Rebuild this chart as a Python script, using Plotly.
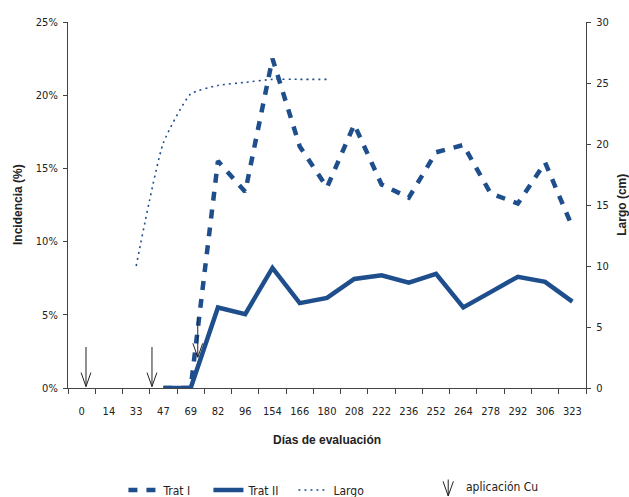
import plotly.graph_objects as go

dias = ["0", "14", "33", "47", "69", "82", "96", "154", "166", "180", "208",
        "222", "236", "252", "264", "278", "292", "306", "323"]
trat_i = [None, None, None, 0, 0, 15.5, 13.4, 22.5, 16.5, 13.7, 18.0,
          13.9, 13.0, 16.1, 16.6, 13.3, 12.6, 15.4, 11.0]
trat_ii = [None, None, None, 0, 0, 5.5, 5.05, 8.2, 5.8, 6.15, 7.45,
           7.7, 7.2, 7.8, 5.5, 6.55, 7.6, 7.25, 5.9]
largo = [None, None, 10.0, 20.1, 24.1, 24.8, 25.05, 25.3, 25.3, 25.3,
         None, None, None, None, None, None, None, None, None]

# Cu application arrows: x in category-index units, y top/bottom in %
arrow_x = [0.16, 2.58, 4.26]
arrow_top = [2.8, 2.8, 4.8]
arrow_bot = [0.1, 0.1, 2.1]

BLUE = "#1F4E8C"
FONT = "DejaVu Sans Condensed, Liberation Sans Narrow, Liberation Sans, Arial, sans-serif"
BOLD_FONT = "Liberation Sans, Arial, sans-serif"
TXT = "#222222"

fig = go.Figure()
fig.add_trace(go.Scatter(x=dias, y=trat_i, name="Trat I", mode="lines",
                         line=dict(color=BLUE, width=4.5, dash="9px,9px")))
fig.add_trace(go.Scatter(x=dias, y=trat_ii, name="Trat II", mode="lines",
                         line=dict(color=BLUE, width=4.5)))
fig.add_trace(go.Scatter(x=dias, y=largo, name="Largo", mode="lines", yaxis="y2",
                         line=dict(color=BLUE, width=1.6, dash="2px,4px",
                                   shape="spline", smoothing=0.5)))

shapes = []
hw = 0.18   # half width of arrow head in category units
hh = 0.95   # height of arrow head in %
ln = dict(color="#222222", width=1)
for x, t, b in zip(arrow_x, arrow_top, arrow_bot):
    shapes.append(dict(type="line", xref="x", yref="y", x0=x, x1=x, y0=t, y1=b, line=ln))
    shapes.append(dict(type="line", xref="x", yref="y", x0=x - hw, x1=x, y0=b + hh, y1=b, line=ln))
    shapes.append(dict(type="line", xref="x", yref="y", x0=x + hw, x1=x, y0=b + hh, y1=b, line=ln))

# legend arrow symbol (paper coords)
lx, ly0, ly1 = 0.734, -0.250, -0.295
shapes.append(dict(type="line", xref="paper", yref="paper", x0=lx, x1=lx, y0=ly0, y1=ly1, line=ln))
shapes.append(dict(type="line", xref="paper", yref="paper", x0=lx - 0.01, x1=lx, y0=ly1 + 0.04, y1=ly1, line=ln))
shapes.append(dict(type="line", xref="paper", yref="paper", x0=lx + 0.01, x1=lx, y0=ly1 + 0.04, y1=ly1, line=ln))

title_font = dict(family=BOLD_FONT, size=12, color=TXT)
tick_font = dict(family=FONT, size=11, color=TXT)

fig.update_layout(
    width=629, height=497,
    margin=dict(l=68, r=43, t=22, b=109),
    paper_bgcolor="white", plot_bgcolor="white",
    font=dict(family=FONT, size=12, color=TXT),
    showlegend=True,
    legend=dict(orientation="h", xref="paper", x=0.107, xanchor="left",
                yref="container", y=0.014, yanchor="middle",
                font=dict(family=FONT, size=12, color=TXT), bgcolor="rgba(0,0,0,0)",
                itemwidth=30, entrywidth=40, tracegroupgap=0),
    xaxis=dict(type="category", showgrid=False, showline=True, linecolor="#444",
               linewidth=1, ticks="outside", ticklen=5, tickcolor="#444",
               tickson="boundaries", range=[-0.5, 18.5], tickangle=0,
               ticklabelstandoff=13, automargin=False, tickfont=tick_font),
    yaxis=dict(range=[0, 25], dtick=5, ticksuffix="%", showgrid=False, zeroline=False,
               showline=True, linecolor="#444", linewidth=1, ticks="outside",
               ticklen=4, tickcolor="#444", ticklabelstandoff=3,
               automargin=False, tickfont=tick_font),
    yaxis2=dict(range=[0, 30], dtick=5, overlaying="y", side="right", showgrid=False,
                zeroline=False, showline=True, linecolor="#444", linewidth=1,
                ticks="outside", ticklen=4, tickcolor="#444", ticklabelstandoff=3,
                automargin=False, tickfont=tick_font),
    shapes=shapes,
    annotations=[
        dict(text="aplicación Cu", xref="paper", yref="paper",
             x=0.765, y=-0.27, xanchor="left", yanchor="middle",
             showarrow=False, font=dict(family=FONT, size=12, color=TXT)),
        dict(text="<b>Días de evaluación</b>", xref="paper", yref="paper",
             x=0.5, y=-0.142, xanchor="center", yanchor="middle",
             showarrow=False, font=title_font),
        dict(text="<b>Incidencia (%)</b>", xref="paper", yref="paper",
             x=-0.0965, y=0.5, xanchor="center", yanchor="middle", textangle=-90,
             showarrow=False, font=title_font),
        dict(text="<b>Largo (cm)</b>", xref="paper", yref="paper",
             x=1.069, y=0.5, xanchor="center", yanchor="middle", textangle=-90,
             showarrow=False, font=title_font),
    ],
)

fig.write_html("out.html", config={"displayModeBar": False},
               post_script="document.body.style.margin='0px';document.body.style.overflow='hidden';")
